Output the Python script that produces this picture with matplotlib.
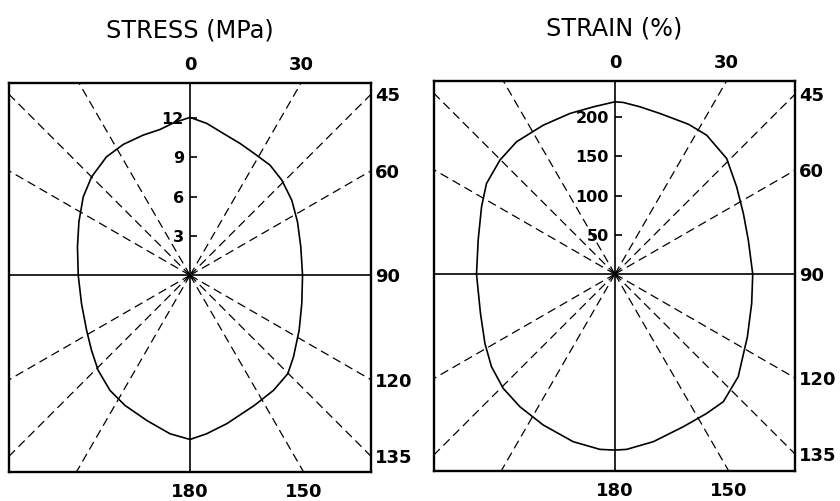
import numpy as np
import matplotlib
matplotlib.use("Agg")
import matplotlib.pyplot as plt

# --- data (angle in degrees, clockwise from top) ---
stress_angle = [0, 6.3, 13.2, 20.8, 27.4, 36.0, 44.0, 53.6, 63.6, 75.6,
                90, 104.2, 116.8, 128.3, 135.2, 144.1, 153.7, 166.1, 174.0,
                180, 187.2, 196.6, 206.6, 214.8, 224.0, 232.7, 242.0, 255.3,
                270, 284.2, 295.7, 306.3, 315.0, 324.8, 333.0, 341.6, 348.4, 354.0]
stress_r = [12.04, 11.65, 11.11, 10.75, 10.51, 10.38, 10.08, 9.64, 9.15, 8.72,
            8.58, 8.79, 9.32, 10.05, 10.58, 10.84, 11.07, 11.66, 12.15,
            12.52, 12.18, 11.55, 11.09, 10.69, 10.08, 9.44, 8.93, 8.55,
            8.52, 8.85, 9.40, 10.10, 10.61, 11.05, 11.20, 11.27, 11.35, 11.70]

strain_angle = [0, 2.8, 8.5, 15.6, 26.1, 33.4, 44.0, 54.3, 64.7, 75.7,
                90, 102.1, 115.3, 129.8, 139.7, 146.7, 155.9, 167.1, 176.2,
                180, 184.9, 194.0, 205.4, 215.6, 224.3, 233.1, 241.9, 253.7,
                270, 284.0, 296.8, 305.2, 314.8, 323.4, 334.3, 344.4, 352.6]
strain_r = [219.3, 218.7, 215.3, 212.3, 212.4, 211.8, 204.5, 190.5, 180.6, 175.0,
            175.2, 177.8, 186.3, 204.0, 213.0, 212.2, 212.8, 218.8, 223.6,
            224.0, 223.9, 219.8, 212.6, 207.6, 203.3, 196.3, 187.4, 178.1,
            176.0, 179.2, 190.0, 199.9, 206.0, 209.8, 210.3, 212.3, 214.6]

stress_ticks = [3, 6, 9, 12]
strain_ticks = [50, 100, 150, 200]

guide_angles = [30, 45, 60, 120, 135, 150, 210, 225, 240, 300, 315, 330]
top_labels = [0, 30]
right_labels = [45, 60, 90, 120, 135]
bottom_labels = [180, 150]

fig = plt.figure(figsize=(8.4, 5.01), dpi=100)


def edge_point(theta, xlim, ylim):
    # where a ray from the centre leaves the box
    dx, dy = np.sin(np.radians(theta)), np.cos(np.radians(theta))
    ts = []
    if abs(dx) > 1e-9:
        ts.append((xlim[1] if dx > 0 else xlim[0]) / dx)
    if abs(dy) > 1e-9:
        ts.append((ylim[1] if dy > 0 else ylim[0]) / dy)
    t = min(ts)
    return t * dx, t * dy


def panel(rect, ang, r_vals, rticks, xlim, ylim, title):
    ax = fig.add_axes(rect)
    ax.set_xlim(xlim)
    ax.set_ylim(ylim)
    ax.set_xticks([])
    ax.set_yticks([])
    for s in ax.spines.values():
        s.set_linewidth(1.7)

    R = 3 * max(abs(v) for v in list(xlim) + list(ylim))
    for a in guide_angles:
        th = np.radians(a)
        ax.plot([0, R * np.sin(th)], [0, R * np.cos(th)], color="black",
                lw=0.9, dashes=(7, 4))
    ax.axvline(0, color="black", lw=1.2)
    ax.axhline(0, color="black", lw=1.2)

    th = np.radians(ang + [ang[0]])
    r = np.array(r_vals + [r_vals[0]])
    ax.plot(r * np.sin(th), r * np.cos(th), color="black", lw=1.2,
            solid_joinstyle="round")

    ax.plot([0] * len(rticks), rticks, ls="none", marker=1, ms=5, mew=1.2,
            color="black")
    for v in rticks:
        ax.annotate(str(v), xy=(0, v), xytext=(-4.5, 0), textcoords="offset points",
                    ha="right", va="center_baseline", fontsize=11.5,
                    fontweight="bold", annotation_clip=False)

    for a in top_labels:
        x, y = edge_point(a, xlim, ylim)
        ax.annotate(str(a), xy=(x, y), xytext=(0, 9.5), textcoords="offset points",
                    ha="center", va="baseline", fontsize=13, fontweight="bold",
                    annotation_clip=False)
    for a in right_labels:
        x, y = edge_point(a, xlim, ylim)
        ax.annotate(str(a), xy=(x, y), xytext=(3, 0), textcoords="offset points",
                    ha="left", va="center_baseline", fontsize=13,
                    fontweight="bold", annotation_clip=False)
    for a in bottom_labels:
        x, y = edge_point(a, xlim, ylim)
        ax.annotate(str(a), xy=(x, y), xytext=(0, -18), textcoords="offset points",
                    ha="center", va="baseline", fontsize=13, fontweight="bold",
                    annotation_clip=False)

    ax.set_title(title, fontsize=17.3, pad=33)
    return ax


panel([0.0107, 0.0579, 0.431, 0.7764], stress_angle, stress_r, stress_ticks,
      (-13.8, 13.8), (-15.0, 14.66), "STRESS (MPa)")
panel([0.5167, 0.0599, 0.4298, 0.778], strain_angle, strain_r, strain_ticks,
      (-230, 229), (-250.6, 245.5), "STRAIN (%)")

fig.savefig("out.png", dpi=100)
